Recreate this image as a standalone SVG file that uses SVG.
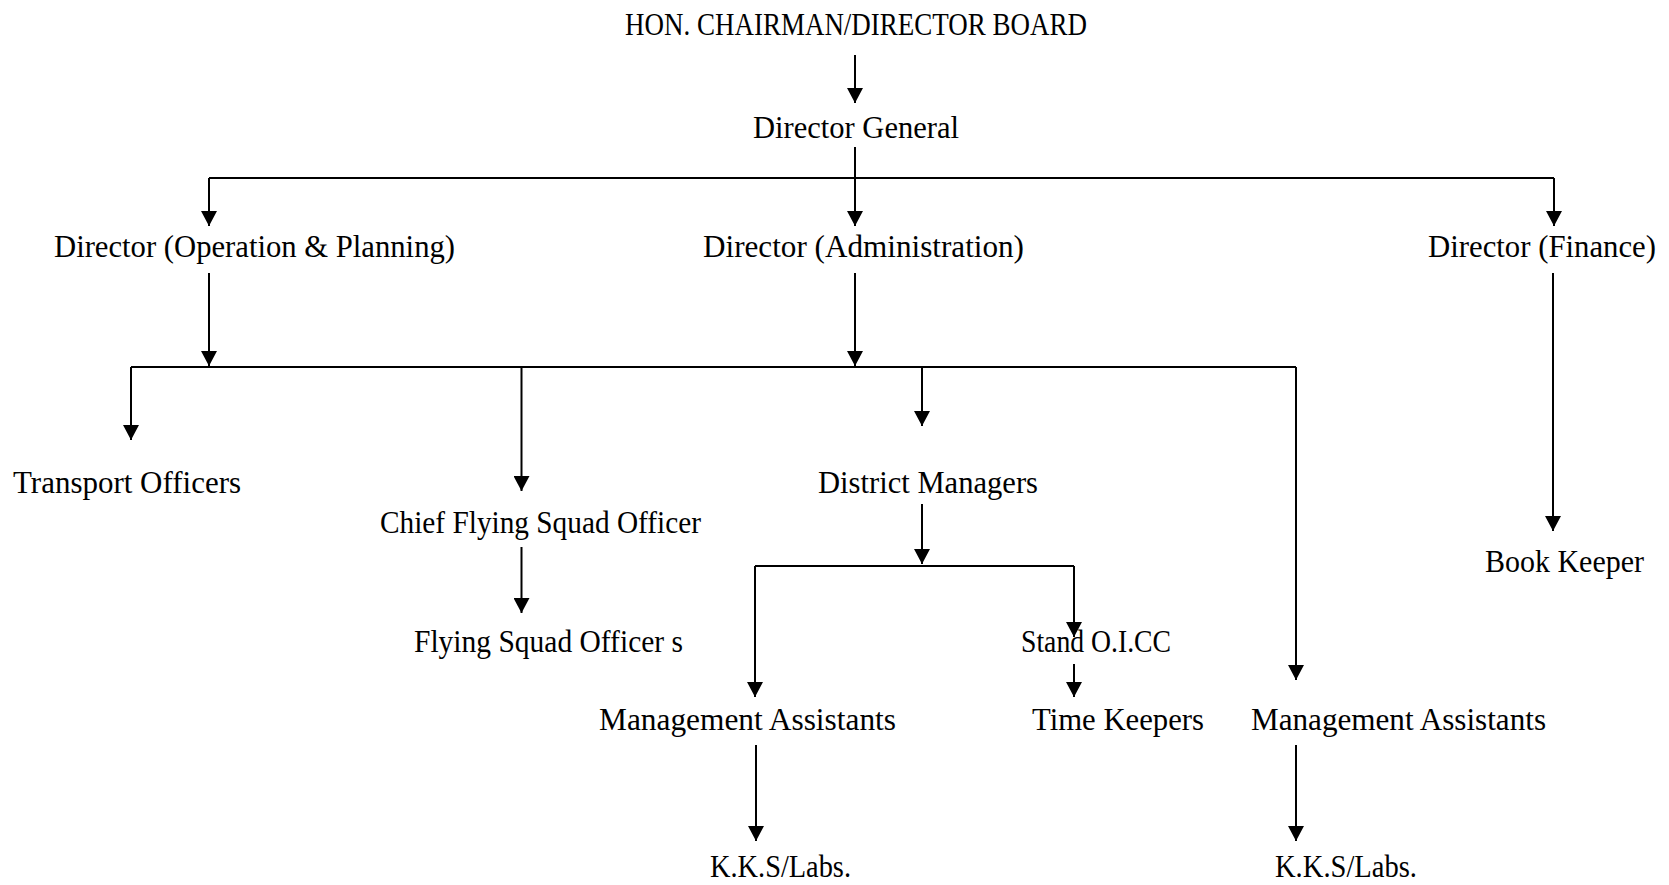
<svg xmlns="http://www.w3.org/2000/svg" width="1669" height="885" viewBox="0 0 1669 885">
<style>
text{font-family:"Liberation Serif","Times New Roman",serif;font-size:31px;fill:#000}
.c path{fill:none;stroke:#000;stroke-width:2}
.c path.a{marker-end:url(#arr)}
</style>
<defs>
<marker id="arr" viewBox="0 0 15 16" refX="15" refY="8" markerWidth="15" markerHeight="16" markerUnits="userSpaceOnUse" orient="auto">
<path d="M0,0 L15,8 L0,16 z" fill="#000"/>
</marker>
</defs>
<rect width="1669" height="885" fill="#fff"/>
<g class="c" id="connectors">
<path class="a" d="M855,55 V103"/>
<path class="a" d="M855,147 V226"/>
<path d="M209,178 H1554"/>
<path class="a" d="M209,178 V226"/>
<path class="a" d="M1554,178 V226"/>
<path class="a" d="M209,273 V366"/>
<path class="a" d="M855,273 V366"/>
<path d="M131,367 H1296"/>
<path class="a" d="M131,367 V440"/>
<path class="a" d="M521.5,367 V491"/>
<path class="a" d="M922,367 V426"/>
<path class="a" d="M1296,367 V680"/>
<path class="a" d="M521.5,547 V613"/>
<path class="a" d="M922,504 V564"/>
<path d="M755,566 H1074"/>
<path class="a" d="M755,566 V697"/>
<path class="a" d="M1074,566 V637"/>
<path class="a" d="M1074,664 V697"/>
<path class="a" d="M756,745 V841"/>
<path class="a" d="M1296,745 V841"/>
<path class="a" d="M1553,273 V531"/>
</g>
<g id="n-board"><text x="625" y="35" textLength="462" lengthAdjust="spacingAndGlyphs">HON. CHAIRMAN/DIRECTOR BOARD</text></g>
<g id="n-dg"><text x="753" y="138" textLength="206" lengthAdjust="spacingAndGlyphs">Director General</text></g>
<g id="n-dop"><text x="54" y="257" textLength="401" lengthAdjust="spacingAndGlyphs">Director (Operation &amp; Planning)</text></g>
<g id="n-da"><text x="703" y="257" textLength="321" lengthAdjust="spacingAndGlyphs">Director (Administration)</text></g>
<g id="n-df"><text x="1428" y="257" textLength="228" lengthAdjust="spacingAndGlyphs">Director (Finance)</text></g>
<g id="n-to"><text x="13" y="493" textLength="228" lengthAdjust="spacingAndGlyphs">Transport Officers</text></g>
<g id="n-dm"><text x="818" y="493" textLength="220" lengthAdjust="spacingAndGlyphs">District Managers</text></g>
<g id="n-cfso"><text x="380" y="533" textLength="321" lengthAdjust="spacingAndGlyphs">Chief Flying Squad Officer</text></g>
<g id="n-bk"><text x="1485" y="572" textLength="159" lengthAdjust="spacingAndGlyphs">Book Keeper</text></g>
<g id="n-fso"><text x="414" y="652" textLength="269" lengthAdjust="spacingAndGlyphs">Flying Squad Officer s</text></g>
<g id="n-stand"><text x="1021" y="652" textLength="150" lengthAdjust="spacingAndGlyphs">Stand O.I.CC</text></g>
<g id="n-ma1"><text x="599" y="730" textLength="297" lengthAdjust="spacingAndGlyphs">Management Assistants</text></g>
<g id="n-tk"><text x="1032" y="730" textLength="172" lengthAdjust="spacingAndGlyphs">Time Keepers</text></g>
<g id="n-ma2"><text x="1251" y="730" textLength="295" lengthAdjust="spacingAndGlyphs">Management Assistants</text></g>
<g id="n-kks1"><text x="710" y="877" textLength="141" lengthAdjust="spacingAndGlyphs">K.K.S/Labs.</text></g>
<g id="n-kks2"><text x="1275" y="877" textLength="142" lengthAdjust="spacingAndGlyphs">K.K.S/Labs.</text></g>
</svg>
